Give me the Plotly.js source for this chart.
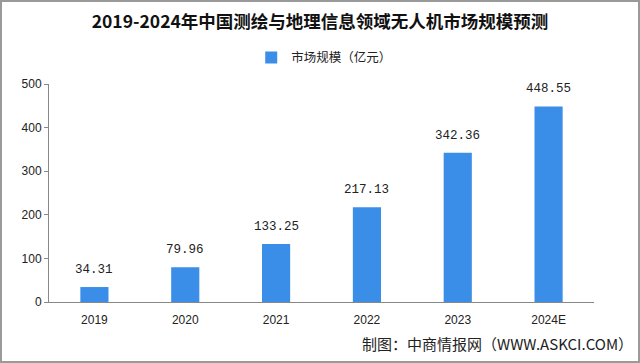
<!DOCTYPE html>
<html>
<head>
<meta charset="utf-8">
<script src="https://cdn.plot.ly/plotly-3.0.1.min.js"></script>
<style>
html,body{margin:0;padding:0;background:#fff;}
#wrap{width:640px;height:363px;box-sizing:border-box;border:2px solid #9a9a9a;overflow:hidden;position:relative;}
#chart{position:absolute;left:-2px;top:-2px;width:640px;height:363px;}
</style>
</head>
<body>
<div id="wrap"><div id="chart"></div></div>
<script>
var categories = ["2019", "2020", "2021", "2022", "2023", "2024E"];
var marketSize = [34.31, 79.96, 133.25, 217.13, 342.36, 448.55];
var yTicks = [0, 100, 200, 300, 400, 500];
var seriesName = "市场规模（亿元）";

var trace = {
  type: "bar",
  x: categories,
  y: marketSize,
  name: seriesName,
  marker: {color: "#3a8ee8"},
  hoverinfo: "skip"
};

// category index positions on the category axis
var labelAnnotations = categories.map(function(c, i){
  return {
    x: i, y: marketSize[i], xref: "x", yref: "y",
    text: marketSize[i].toFixed(2),
    showarrow: false, yanchor: "bottom", yshift: 8,
    font: {family: "Liberation Mono, DejaVu Sans Mono, monospace", size: 12.5, color: "#222"}
  };
});

var layout = {
  width: 640, height: 363,
  margin: {l: 49, r: 46, t: 84, b: 61},
  paper_bgcolor: "#fff", plot_bgcolor: "#fff",
  bargap: 0.69,
  showlegend: true,
  legend: {orientation: "h", x: 0.505, xanchor: "center", y: 1.12, yanchor: "middle",
    font: {family: "Noto Sans CJK SC", size: 12.5, color: "#222"}, itemwidth: 30},
  title: {text: "<b>2019-2024年中国测绘与地理信息领域无人机市场规模预测</b>",
    x: 0.5, xanchor: "center", y: 0.94, yanchor: "middle",
    font: {family: "Noto Sans CJK SC", size: 17.5, color: "#111"}},
  xaxis: {
    type: "category",
    showline: true, linecolor: "#888", linewidth: 1,
    ticks: "", showgrid: false,
    tickfont: {family: "Liberation Sans Narrow, Liberation Sans, sans-serif", size: 12, color: "#222"},
    ticklabelstandoff: 7
  },
  yaxis: {
    range: [0, 500],
    tickvals: yTicks,
    showline: true, linecolor: "#888", linewidth: 1,
    ticks: "outside", ticklen: 4, tickcolor: "#888",
    showgrid: false, zeroline: false,
    tickfont: {family: "Liberation Sans, Arial, sans-serif", size: 12, color: "#222"}
  },
  annotations: labelAnnotations.concat([{
    text: "制图：中商情报网（WWW.ASKCI.COM）",
    xref: "paper", yref: "paper", x: 1.075, xanchor: "right", y: -0.19, yanchor: "middle",
    showarrow: false,
    font: {family: "Noto Sans CJK SC", size: 15, color: "#222"}
  }])
};

Plotly.newPlot("chart", [trace], layout, {displayModeBar: false, staticPlot: true});
</script>
</body>
</html>
